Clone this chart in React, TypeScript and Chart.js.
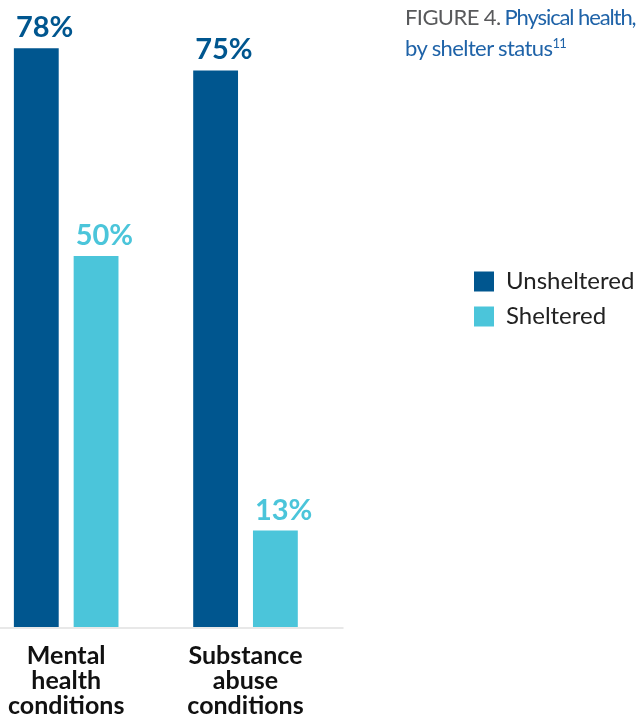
import React, { useEffect, useRef } from 'react';
import { Chart, registerables } from 'chart.js';

Chart.register(...registerables);

const categories: string[][] = [
  ['Mental', 'health', 'conditions'],
  ['Substance', 'abuse', 'conditions'],
];
const seriesNames = ['Unsheltered', 'Sheltered'];
const unsheltered = [78, 75];
const sheltered = [50, 13];
const seriesColors = ['#00568f', '#4bc5da'];
const titleLead = 'FIGURE 4.';
const titleMain = 'Physical health,';
const titleLine2 = 'by shelter status';
const titleNote = '11';

const FONT = 'Lato, "Open Sans", sans-serif';
const LEGEND_FONT_SIZE = 24;
const LEGEND_BOX = 20;
const LEGEND_PAD = 11;

export default function App() {
  const ref = useRef<HTMLCanvasElement>(null);

  useEffect(() => {
    if (!ref.current) return;

    // measure widest legend label so the layout leaves exact room for the legend
    const mctx = document.createElement('canvas').getContext('2d')!;
    mctx.font = `${LEGEND_FONT_SIZE}px ${FONT}`;
    const widest = Math.max(...seriesNames.map((s) => mctx.measureText(s).width));
    const legendWidth = LEGEND_PAD * 2 + LEGEND_BOX + LEGEND_FONT_SIZE / 2 + widest;
    const legendLeft = 462;
    const padRight = 637 - legendLeft - legendWidth; // may be negative: legend runs to the page edge

    const valueLabels = {
      id: 'valueLabels',
      afterDatasetsDraw(chart: any) {
        const ctx = chart.ctx;
        chart.data.datasets.forEach((ds: any, i: number) => {
          const meta = chart.getDatasetMeta(i);
          meta.data.forEach((bar: any, j: number) => {
            ctx.save();
            ctx.font = `bold 29px ${FONT}`;
            ctx.fillStyle = seriesColors[i];
            ctx.textAlign = 'left';
            ctx.textBaseline = 'alphabetic';
            ctx.fillText(`${ds.data[j]}%`, bar.x - bar.width / 2 + 2, bar.y - 11);
            ctx.restore();
          });
        });
      },
    };

    const baseline = {
      id: 'baseline',
      beforeDatasetsDraw(chart: any) {
        const ctx = chart.ctx;
        const y = chart.scales.y.getPixelForValue(0);
        const xEnd = chart.scales.x.getPixelForValue(1) + 98;
        ctx.save();
        ctx.strokeStyle = '#e8e8e8';
        ctx.lineWidth = 2;
        ctx.beginPath();
        ctx.moveTo(0, y + 1);
        ctx.lineTo(xEnd, y + 1);
        ctx.stroke();
        ctx.restore();
      },
    };

    const legendNudge = {
      id: 'legendNudge',
      afterLayout(chart: any) {
        if (chart.legend) {
          chart.legend.top -= 60;
          chart.legend.bottom -= 60;
        }
      },
    };

    const chart = new Chart(ref.current, {
      type: 'bar',
      data: {
        labels: categories as any,
        datasets: [
          {
            label: seriesNames[0],
            data: unsheltered,
            backgroundColor: seriesColors[0],
            categoryPercentage: 2 / 3,
            barPercentage: 0.75,
            clip: false as any,
          },
          {
            label: seriesNames[1],
            data: sheltered,
            backgroundColor: seriesColors[1],
            categoryPercentage: 2 / 3,
            barPercentage: 0.75,
            clip: false as any,
          },
        ],
      },
      options: {
        animation: false,
        responsive: false,
        maintainAspectRatio: false,
        layout: { padding: { left: 64.5, right: padRight, top: 0, bottom: 0 } },
        plugins: {
          title: { display: false },
          tooltip: { enabled: false },
          legend: {
            display: true,
            position: 'right',
            align: 'center',
            maxWidth: 400,
            labels: {
              boxWidth: LEGEND_BOX,
              boxHeight: LEGEND_BOX,
              padding: LEGEND_PAD,
              color: '#222222',
              font: { family: FONT, size: LEGEND_FONT_SIZE },
            },
          },
        },
        scales: {
          x: {
            offset: false,
            grid: { display: false },
            border: { display: false },
            ticks: {
              autoSkip: false,
              maxRotation: 0,
              minRotation: 0,
              padding: 8,
              color: '#111111',
              font: { family: FONT, size: 25, weight: 'bold', lineHeight: 1.0 },
            },
            afterFit(scale: any) {
              scale.height = 91;
            },
          },
          y: {
            position: 'right',
            min: 0,
            max: 84.5,
            grid: { display: false },
            border: { display: false },
            ticks: { display: false },
            afterFit(scale: any) {
              scale.width = legendLeft - 244.5;
            },
          },
        },
      },
      plugins: [valueLabels, baseline, legendNudge],
    });

    return () => chart.destroy();
  }, []);

  return (
    <div
      style={{
        position: 'fixed',
        left: 0,
        top: 0,
        width: 637,
        height: 718,
        overflow: 'hidden',
        background: '#ffffff',
      }}
    >
      <canvas ref={ref} width={637} height={718} style={{ position: 'absolute', left: 0, top: 0, width: 637, height: 718 }} />
      <div
        style={{
          position: 'absolute',
          left: 405,
          top: 1,
          fontFamily: FONT,
          fontSize: 22,
          lineHeight: '31px',
          whiteSpace: 'nowrap',
          letterSpacing: -0.6,
        }}
      >
        <div>
          <span style={{ color: '#58595b' }}>{titleLead}</span>
          <span style={{ color: '#1f63a8', marginLeft: 4, letterSpacing: -1.1 }}>{titleMain}</span>
        </div>
        <div style={{ color: '#1f63a8' }}>
          {titleLine2}
          <sup style={{ fontSize: 13, lineHeight: 0 }}>{titleNote}</sup>
        </div>
      </div>
    </div>
  );
}
